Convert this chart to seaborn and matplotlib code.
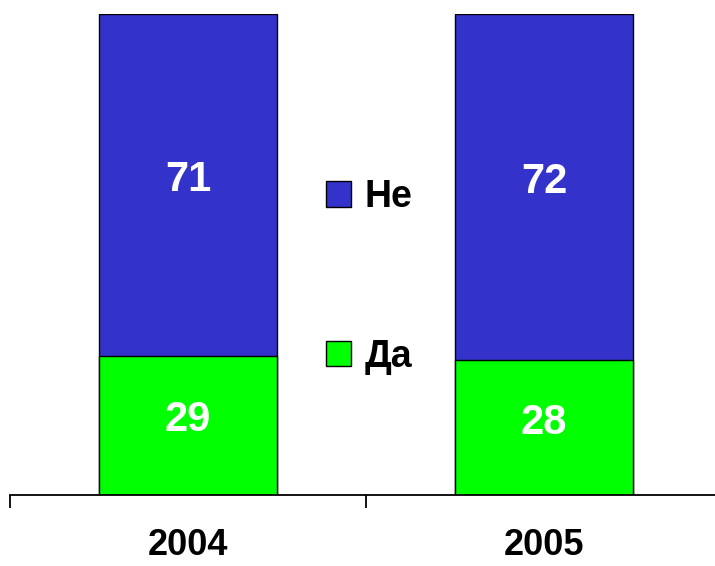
import matplotlib
matplotlib.use('Agg')
import matplotlib.pyplot as plt
import seaborn as sns
import numpy as np
from matplotlib.patches import Patch

# Данные
years = ['2004', '2005']
da = [29, 28]
ne = [71, 72]
labels = ['Не', 'Да']

blue = '#3333CC'
green = '#00FF00'

sns.set_style('white')
plt.rcParams['font.family'] = ['Liberation Sans', 'DejaVu Sans']
plt.rcParams['text.color'] = 'black'
plt.rcParams['xtick.color'] = 'black'
plt.rcParams['xtick.labelcolor'] = 'black'

fig = plt.figure(figsize=(7.15, 5.66), dpi=100)
ax = fig.add_axes([10 / 715, 71 / 566, 712 / 715, 481 / 566])

totals = [a + b for a, b in zip(da, ne)]
sns.barplot(x=years, y=totals, color=blue, width=0.5, edgecolor='black',
            linewidth=1, saturation=1, ax=ax)
sns.barplot(x=years, y=da, color=green, width=0.5, edgecolor='black',
            linewidth=1, saturation=1, ax=ax)

# Подписи значений (чуть выше центра сегмента)
for i in range(len(years)):
    ax.text(i, da[i] / 2 + 1, str(da[i]), ha='center', va='center',
            color='white', fontsize=30, fontweight='bold')
    ax.text(i, da[i] + ne[i] / 2 + 1, str(ne[i]), ha='center', va='center',
            color='white', fontsize=30, fontweight='bold')

ax.set_xlim(-0.5, 1.5)
ax.set_ylim(0, 100)
ax.set_yticks([])
ax.set_ylabel('')
for s in ['top', 'right', 'left']:
    ax.spines[s].set_visible(False)
ax.spines['bottom'].set_linewidth(1.3)
ax.spines['bottom'].set_color('black')

ax.set_xticks(range(len(years)))
ax.set_xticklabels(years, fontsize=26, fontweight='bold', color='black')
ax.tick_params(axis='x', which='major', length=0, pad=24)
ax.set_xticks([-0.5, 0.5, 1.5], minor=True)
ax.tick_params(axis='x', which='minor', direction='out', length=9,
               width=1.3, color='black', bottom=True)

handles = [Patch(facecolor=blue, edgecolor='black', linewidth=1),
           Patch(facecolor=green, edgecolor='black', linewidth=1)]
leg = fig.legend(handles, labels, loc='center', bbox_to_anchor=(0.516, 0.511),
                 frameon=False, prop={'size': 27, 'weight': 'bold'},
                 handlelength=0.67, handleheight=0.67, handletextpad=0.37,
                 labelspacing=3.3)
for t in leg.get_texts():
    t.set_color('black')

fig.savefig('out.png', dpi=100)
